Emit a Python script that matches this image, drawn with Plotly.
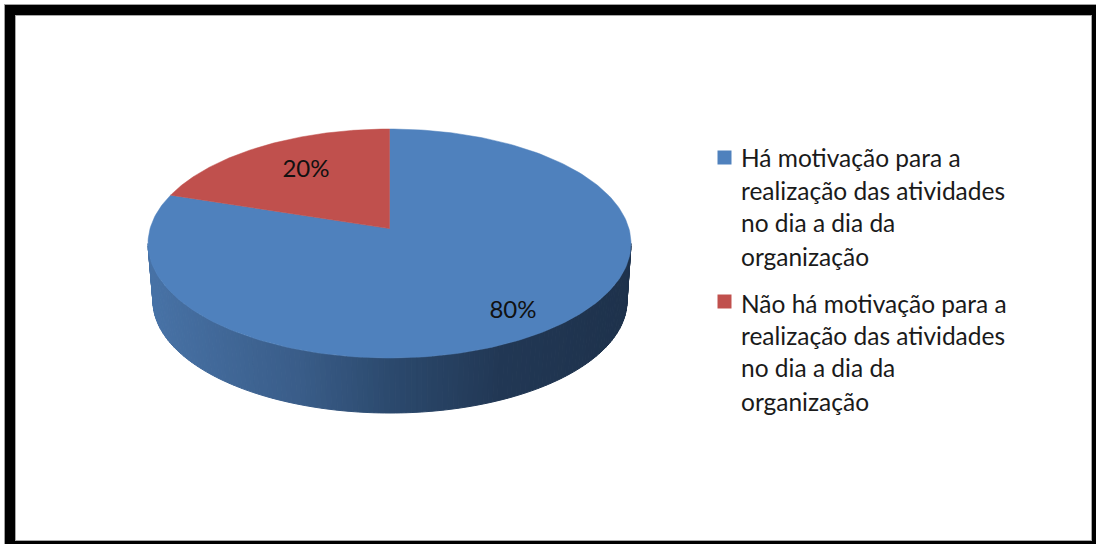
import numpy as np
import plotly.graph_objects as go

# Data
categories = [
    "Há motivação para a realização das atividades no dia a dia da organização",
    "Não há motivação para a realização das atividades no dia a dia da organização",
]
values = [80, 20]
legend_lines = [
    ["Há motivação para a", "realização das atividades", "no dia a dia da", "organização"],
    ["Não há motivação para a", "realização das atividades", "no dia a dia da", "organização"],
]

# Style and geometry
COLORS = ["#4F81BD", "#C0504D"]
FONT = "Lato"
W, H = 1096, 544
CX, CY, RX, RY = 389.5, 243.5, 241.5, 114.5
CX2, CY2, RX2, RY2 = 390.0, 301.0, 237.0, 112.0
TILT = 0.13  # perspective shift of the pie centre
GRAD_X = [150, 300, 390, 500, 630]
GRAD_C = [(72, 115, 167), (58, 93, 137), (44, 74, 110), (34, 56, 85), (30, 50, 76)]


def project(theta):
    """theta is clockwise from the top of the pie, in radians."""
    u, v = np.sin(theta), np.cos(theta)
    d = 1 + TILT * v
    up = u * np.sqrt(1 - TILT**2) / d
    vp = (v + TILT) / d
    return CX + RX * up, CY - RY * vp


fig = go.Figure()

# Side wall, drawn as thin gradient strips
edges = np.linspace(np.pi, 2 * np.pi, 141)
for a, b in zip(edges[:-1], edges[1:]):
    ts = np.array([a, b])
    tx = CX + RX * np.cos(ts)
    ty = CY - RY * np.sin(ts)
    bx = CX2 + RX2 * np.cos(ts)
    by = CY2 - RY2 * np.sin(ts)
    mid = (tx.mean() + bx.mean()) / 2
    rgb = [int(np.interp(mid, GRAD_X, [c[i] for c in GRAD_C])) for i in range(3)]
    col = f"rgb({rgb[0]},{rgb[1]},{rgb[2]})"
    fig.add_trace(go.Scatter(
        x=list(tx) + list(bx[::-1]) + [tx[0]],
        y=list(ty) + list(by[::-1]) + [ty[0]],
        mode="lines", fill="toself", fillcolor=col,
        line=dict(color=col, width=1), hoverinfo="skip", showlegend=False,
    ))

# Top face: slices from the values. Blue starts at 12 o'clock, clockwise.
total = sum(values)
start = 0.0
for name, val, col in zip(categories, values, COLORS):
    span = 2 * np.pi * val / total
    th = np.linspace(start, start + span, 240)
    x0, y0 = CX, CY - RY * TILT
    xs, ys = project(th)
    fig.add_trace(go.Scatter(
        x=[x0, *xs, x0], y=[y0, *ys, y0],
        mode="lines", fill="toself", fillcolor=col,
        line=dict(color=col, width=0.5), name=name, hoverinfo="name", showlegend=False,
    ))
    start += span

# Percent labels
label_x = [513, 306]
label_y = [312, 170.5]
fig.add_trace(go.Scatter(
    x=label_x, y=label_y, mode="text",
    text=[f"{v}%" for v in values],
    textposition="middle center",
    textfont=dict(family=FONT, size=24, color="#111111"),
    hoverinfo="skip", showlegend=False,
))

# Legend swatches
fig.add_trace(go.Scatter(
    x=[724.5, 724.5], y=[157.5, 301.5], mode="markers",
    marker=dict(symbol="square", size=14, color=COLORS, line=dict(width=0)),
    hoverinfo="skip", showlegend=False,
))

# Legend text
line_y = [[157, 190, 222, 256], [303, 335, 367, 401]]
annots = []
for lines, ys in zip(legend_lines, line_y):
    for t, y in zip(lines, ys):
        annots.append(dict(
            x=739, y=y, xref="x", yref="y", text=t, showarrow=False,
            xanchor="left", yanchor="middle",
            font=dict(family=FONT, size=24.5, color="#1a1a1a"),
        ))

# Frame: black band with a thin grey inner edge
def rect(x0, y0, x1, y1, col):
    return dict(type="rect", xref="x", yref="y", x0=x0, y0=y0, x1=x1, y1=y1,
                fillcolor=col, line=dict(width=0), layer="below")

shapes = [
    rect(4, 4, W, H, "#A0A0A0"),
    rect(5, 5, W, H, "#000000"),
    rect(15, 15, 1092, 541, "#A8A8A8"),
    rect(16, 16, 1091, 540, "#FFFFFF"),
]

fig.update_layout(
    width=W, height=H,
    margin=dict(l=0, r=0, t=0, b=0),
    paper_bgcolor="white", plot_bgcolor="white",
    showlegend=False,
    xaxis=dict(range=[0, W], visible=False, fixedrange=True),
    yaxis=dict(range=[H, 0], visible=False, fixedrange=True),
    shapes=shapes, annotations=annots,
)

fig.write_html(
    "out.html",
    config={"displayModeBar": False},
    post_script="document.body.style.margin='0';document.documentElement.style.overflow='hidden';",
)
